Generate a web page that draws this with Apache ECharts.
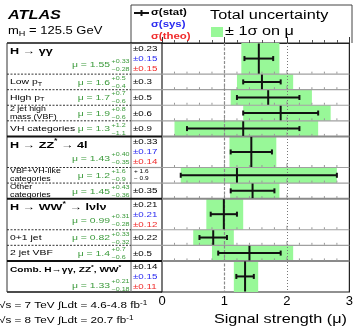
<!DOCTYPE html>
<html>
<head>
<meta charset="utf-8">
<script src="https://cdn.jsdelivr.net/npm/echarts@6/dist/echarts.min.js"></script>
<style>
  html, body { margin: 0; padding: 0; background: #fff; }
  #chart { width: 356px; height: 327px; }
</style>
</head>
<body>
<div id="chart"></div>
<script>
// ---- measurements, one entry per row, top to bottom ----
const rowLabels = [
  'H → γγ', 'Low p_{T}', 'High p_{T}', '2 jet high\nmass (VBF)', 'VH categories',
  'H → ZZ^{*} → 4l', 'VBF+VH-like\ncategories', 'Other\ncategories',
  'H → WW^{*} → lνlν', '0+1 jet', '2 jet VBF', 'Comb. H→γγ, ZZ^{*}, WW^{*}'
];
const rowKinds = [
  'channel', 'category', 'category', 'category', 'category',
  'channel', 'category', 'category',
  'channel', 'category', 'category', 'combined'
];
const muValues   = [1.55, 1.6, 1.7, 1.9, 1.3, 1.43, 1.2, 1.45, 0.99, 0.82, 1.4, 1.33];
const muDecimals = [2, 1, 1, 1, 1, 2, 1, 2, 2, 2, 1, 2];
const totalUp    = [0.33, 0.5, 0.7, 0.8, 1.2, 0.40, 1.6, 0.43, 0.31, 0.33, 0.7, 0.21];
const totalDown  = [0.28, 0.4, 0.6, 0.6, 1.1, 0.35, 0.9, 0.36, 0.28, 0.32, 0.6, 0.18];
const statUp     = [0.23, 0.3, 0.5, 0.6, 0.9, 0.33, 1.6, 0.35, 0.21, 0.22, 0.5, 0.14];
const statDown   = [0.23, 0.3, 0.5, 0.6, 0.9, 0.33, 0.9, 0.35, 0.21, 0.22, 0.5, 0.14];
const sysErr     = [0.15, null, null, null, null, 0.17, null, null, 0.21, null, null, 0.15];
const theoErr    = [0.15, null, null, null, null, 0.14, null, null, 0.12, null, null, 0.11];
const xTicks     = [0, 1, 2, 3];

// ---- layout helpers ----
const FONT = '"Liberation Sans", Arial, Helvetica, sans-serif';
const SX = 1.3;                       // horizontal stretch applied to all text
const GREEN = '#98f898';
const MU_GREEN = '#3a9a3a';
const BLUE = '#2a2af0';
const RED = '#f02a2a';

const rowSpan = rowKinds.map(k => (k === 'category' ? 1 : 2));
const rowStart = [];
rowSpan.reduce((acc, s, i) => { rowStart[i] = acc; return acc + s; }, 0);
const yMax = rowStart[rowStart.length - 1] + rowSpan[rowSpan.length - 1];

// internal row boundaries; "section" marks the start of a new channel block
const boundaries = [];
for (let i = 1; i < rowKinds.length; i++) {
  boundaries.push({ v: rowStart[i], section: rowKinds[i] !== 'category' });
}

const chart = echarts.init(document.getElementById('chart'), null, { renderer: 'canvas' });

const option = {
  animation: false,
  backgroundColor: '#fff',
  grid: {
    left: 162, right: 4, top: 43, bottom: 35,
    show: true, borderColor: '#222', borderWidth: 1.2, backgroundColor: '#fff'
  },
  xAxis: {
    type: 'value',
    min: xTicks[0], max: xTicks[xTicks.length - 1], interval: 1,
    axisLine: { show: true, lineStyle: { color: '#222', width: 1.2 } },
    axisTick: { show: true, inside: true, length: 6, lineStyle: { color: '#333', width: 1 } },
    minorTick: { show: true, splitNumber: 5, length: 3, lineStyle: { color: '#555', width: 1 } },
    splitLine: { show: false },
    axisLabel: {
      color: '#000', fontSize: 13, fontFamily: FONT, margin: 3,
      formatter: v => (xTicks.indexOf(v) >= 0 ? String(v) : '')
    }
  },
  yAxis: {
    type: 'value', min: 0, max: yMax, inverse: true,
    axisLine: { show: false }, axisTick: { show: false },
    axisLabel: { show: false }, splitLine: { show: false }
  },
  series: [
    {
      // total uncertainty bands
      type: 'custom', z: 1, silent: true,
      data: muValues.map((m, i) => [m - totalDown[i], m + totalUp[i], rowStart[i], rowStart[i] + rowSpan[i]]),
      encode: { x: [0, 1], y: [2, 3] },
      renderItem(params, api) {
        const a = api.coord([api.value(0), api.value(2)]);
        const b = api.coord([api.value(1), api.value(3)]);
        return {
          type: 'rect',
          shape: { x: a[0], y: a[1], width: b[0] - a[0], height: b[1] - a[1] },
          style: { fill: GREEN }
        };
      }
    },
    {
      // row separators with small tick marks, plus reference lines at mu = 1 and 2
      type: 'custom', z: 2, silent: true,
      data: boundaries.map(b => [b.v, b.section ? 1 : 0]),
      encode: { y: 0 },
      renderItem(params, api) {
        const v = api.value(0);
        const thick = api.value(1) === 1;
        const l = api.coord([xTicks[0], v]);
        const r = api.coord([xTicks[xTicks.length - 1], v]);
        const children = [{
          type: 'line',
          shape: { x1: l[0], y1: l[1], x2: r[0], y2: r[1] },
          style: { stroke: thick ? '#8a8a8a' : '#a0a0a0', lineWidth: thick ? 2 : 1.2 }
        }];
        const xMin = xTicks[0], xMaxV = xTicks[xTicks.length - 1];
        for (let k = 1; k < (xMaxV - xMin) * 5; k++) {
          const xv = xMin + k * 0.2;
          const p = api.coord([xv, v]);
          const major = k % 5 === 0;
          children.push({
            type: 'line',
            shape: { x1: p[0], y1: p[1] - 0.5, x2: p[0], y2: p[1] - (major ? 4 : 2.5) },
            style: { stroke: '#999', lineWidth: 1 }
          });
        }
        return { type: 'group', children };
      },
      markLine: {
        silent: true, symbol: 'none', label: { show: false }, z: 5,
        data: [
          { xAxis: 1, lineStyle: { color: '#8c8c8c', width: 1.2, type: [3, 1.5] } },
          { xAxis: 2, lineStyle: { color: '#777', width: 1, type: [1, 2] } }
        ]
      }
    },
    {
      // statistical error bars with the central value line
      type: 'custom', z: 10, silent: true,
      data: muValues.map((m, i) => [m - statDown[i], m + statUp[i], rowStart[i], rowStart[i] + rowSpan[i], m]),
      encode: { x: [0, 1, 4], y: [2, 3] },
      renderItem(params, api) {
        const y0 = api.value(2), y1 = api.value(3), yc = (y0 + y1) / 2, m = api.value(4);
        const pL = api.coord([api.value(0), yc]);
        const pR = api.coord([api.value(1), yc]);
        const pT = api.coord([m, y0]);
        const pB = api.coord([m, y1]);
        const st = { stroke: '#111', lineWidth: 2 };
        return {
          type: 'group',
          children: [
            { type: 'line', shape: { x1: pL[0], y1: pL[1], x2: pR[0], y2: pR[1] }, style: st },
            { type: 'line', shape: { x1: pL[0], y1: pL[1] - 2.5, x2: pL[0], y2: pL[1] + 2.5 }, style: st },
            { type: 'line', shape: { x1: pR[0], y1: pR[1] - 2.5, x2: pR[0], y2: pR[1] + 2.5 }, style: st },
            { type: 'line', shape: { x1: pT[0], y1: pT[1] + 0.5, x2: pB[0], y2: pB[1] - 0.5 }, style: st }
          ]
        };
      }
    }
  ]
};

chart.setOption(option);

// ---- text and table drawing ----
const measureCtx = document.createElement('canvas').getContext('2d');
function cssFont(size, weight, style) {
  return `${style || 'normal'} ${weight || 'normal'} ${size}px ${FONT}`;
}
function textWidth(str, size, weight, style) {
  measureCtx.font = cssFont(size, weight, style);
  return measureCtx.measureText(str).width * SX;
}
function txt(x, y, str, size, color, opt = {}) {
  const align = opt.align || 'left';
  return {
    type: 'text', x, y, scaleX: SX, silent: true, z: 20,
    style: {
      text: str, fill: color,
      font: cssFont(size, opt.weight, opt.style),
      align, verticalAlign: 'middle',
      textAlign: align, textVerticalAlign: 'middle'
    }
  };
}
// text with _{sub} and ^{sup} pieces, left aligned at x
function richText(x, y, s, size, color, opt = {}) {
  const parts = [];
  const re = /([_^])\{([^}]*)\}/g;
  let last = 0, m;
  while ((m = re.exec(s))) {
    if (m.index > last) parts.push({ t: s.slice(last, m.index), mode: 'n' });
    parts.push({ t: m[2], mode: m[1] === '_' ? 'sub' : 'sup' });
    last = re.lastIndex;
  }
  if (last < s.length) parts.push({ t: s.slice(last), mode: 'n' });
  const els = [];
  let cx = x;
  for (const p of parts) {
    const sz = p.mode === 'n' ? size : size * 0.7;
    const dy = p.mode === 'sub' ? size * 0.3 : p.mode === 'sup' ? -size * 0.35 : 0;
    els.push(txt(cx, y + dy, p.t, sz, color, opt));
    cx += textWidth(p.t, sz, opt.weight, opt.style);
  }
  return els;
}
function hline(x1, x2, y, color, width, dash) {
  return {
    type: 'line', silent: true, z: 15,
    shape: { x1, y1: y, x2, y2: y },
    style: { stroke: color, lineWidth: width, lineDash: dash || null }
  };
}
function vline(x, y1, y2, color, width) {
  return {
    type: 'line', silent: true, z: 15,
    shape: { x1: x, y1, x2: x, y2 },
    style: { stroke: color, lineWidth: width }
  };
}

const yPix = v => chart.convertToPixel({ yAxisIndex: 0 }, v);
const TABLE_L = 7, COL_V = 131, PLOT_L = 162, PLOT_R = 352;
const tableTop = yPix(0), tableBottom = yPix(yMax);

const g = [];

// header
g.push(txt(8, 15.5, 'ATLAS', 12.5, '#000', { weight: 'bold', style: 'italic' }));
g.push(...richText(8, 31, 'm_{H} = 125.5 GeV', 10, '#000'));

// legend box
g.push(hline(COL_V, PLOT_R, 5, '#444', 1));
g.push(vline(COL_V, 5, tableTop, '#444', 1));
g.push(vline(PLOT_R, 5, tableTop, '#444', 1));
g.push(hline(134, 149, 13, '#111', 2));
g.push(vline(141.5, 10, 16, '#111', 2));
g.push(txt(151, 13, 'σ(stat)', 8.8, '#000', { weight: 'bold' }));
g.push(txt(151, 25, 'σ(sys)', 8.8, BLUE, { weight: 'bold' }));
g.push(txt(151, 37, 'σ(theo)', 8.8, RED, { weight: 'bold' }));
g.push(txt(210, 16, 'Total uncertainty', 12.5, '#000'));
g.push({ type: 'rect', silent: true, z: 15, shape: { x: 211, y: 27, width: 12, height: 10 }, style: { fill: GREEN } });
g.push(txt(225, 32, '± 1σ on μ', 12.5, '#000'));

// table frame
g.push(hline(TABLE_L, PLOT_L, tableTop, '#111', 1.5));
g.push(hline(TABLE_L, PLOT_L, tableBottom, '#111', 1.5));
g.push(vline(TABLE_L, tableTop, tableBottom, '#333', 1));
g.push(vline(COL_V, tableTop, tableBottom, '#666', 1));
boundaries.forEach(b => {
  const y = yPix(b.v);
  if (b.section) {
    g.push(hline(TABLE_L, PLOT_L, y, '#111', 2));
  } else {
    g.push(hline(TABLE_L, COL_V, y, '#333', 1, [2, 1.5]));
    g.push(hline(COL_V, PLOT_L, y, '#999', 1.2));
  }
});

// rows
rowKinds.forEach((kind, i) => {
  const top = yPix(rowStart[i]);
  const bottom = yPix(rowStart[i] + rowSpan[i]);
  const mid = (top + bottom) / 2;
  const d = muDecimals[i];
  let labelY, muY;
  if (kind === 'category') {
    const lines = rowLabels[i].split('\n');
    if (lines.length === 1) {
      g.push(...richText(10, mid, lines[0], 8, '#000'));
    } else {
      g.push(txt(10, mid - 4.2, lines[0], 6.8, '#000'));
      g.push(txt(10, mid + 4.2, lines[1], 6.8, '#000'));
    }
    muY = mid + 0.5;
  } else if (kind === 'channel') {
    labelY = top + 8.5;
    g.push(...richText(10, labelY, rowLabels[i], 9.7, '#000', { weight: 'bold' }));
    muY = top + 22;
  } else {
    labelY = top + 9;
    g.push(...richText(10, labelY, rowLabels[i], 7.8, '#000', { weight: 'bold' }));
    muY = top + 25;
  }
  // signal strength with its total uncertainty
  g.push(txt(110, muY, 'μ = ' + muValues[i].toFixed(d), 8, MU_GREEN, { align: 'right' }));
  g.push(txt(111.5, muY - 4, '+' + totalUp[i].toFixed(d), 5.5, MU_GREEN));
  g.push(txt(111.5, muY + 4, '−' + totalDown[i].toFixed(d), 5.5, MU_GREEN));

  // uncertainty breakdown column
  if (kind === 'category') {
    if (statUp[i] === statDown[i]) {
      g.push(txt(133, muY, '±' + statUp[i].toFixed(d), 7.5, '#000'));
    } else {
      g.push(txt(134, mid - 3.5, '+ ' + statUp[i].toFixed(d), 5, '#000'));
      g.push(txt(134, mid + 3.5, '− ' + statDown[i].toFixed(d), 5, '#000'));
    }
  } else {
    g.push(txt(133, top + 6, '±' + statUp[i].toFixed(d), 7.5, '#000'));
    g.push(txt(133, top + 16, '±' + sysErr[i].toFixed(d), 7.5, BLUE));
    g.push(txt(133, top + 26, '±' + theoErr[i].toFixed(d), 7.5, RED));
  }
});

// axis title and luminosity notes
g.push(txt(347, 320, 'Signal strength (μ)', 12.5, '#000', { align: 'right' }));
g.push(...richText(-1, 306, '√s = 7 TeV ∫Ldt = 4.6-4.8 fb^{-1}', 9, '#000'));
g.push(...richText(-1, 321, '√s = 8 TeV ∫Ldt = 20.7 fb^{-1}', 9, '#000'));

chart.setOption({ graphic: { elements: g } });
</script>
</body>
</html>
